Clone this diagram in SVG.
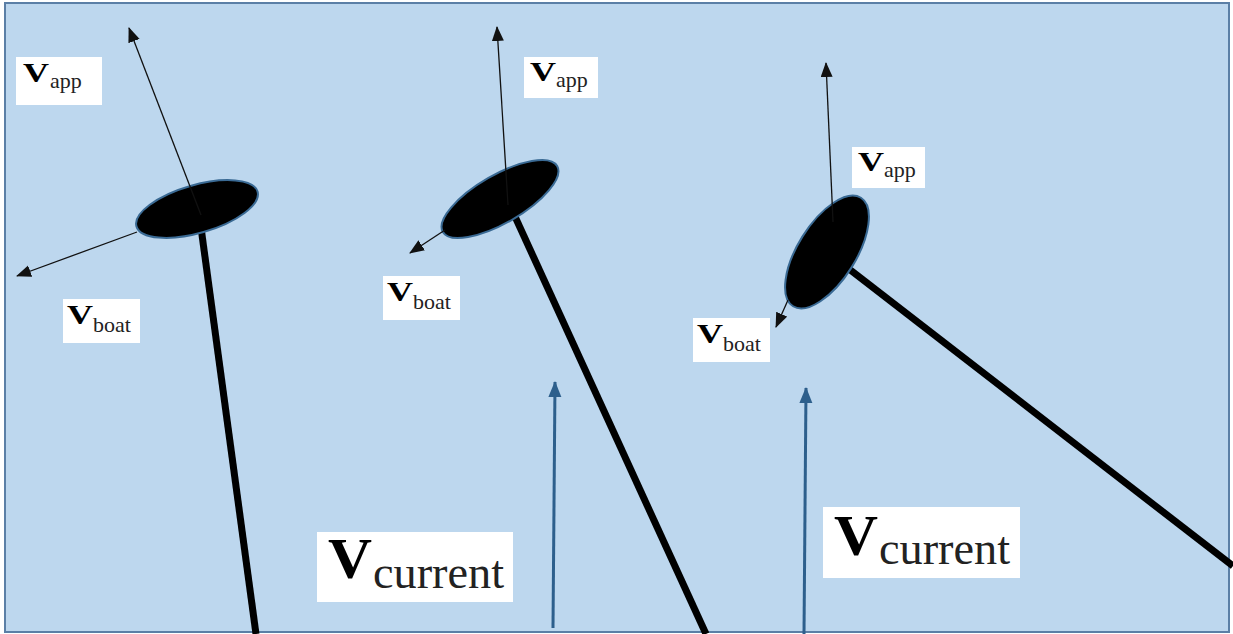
<svg xmlns="http://www.w3.org/2000/svg" width="1233" height="634" viewBox="0 0 1233 634">
<defs>
<style>
.bg{fill:#BDD7EE;stroke:#5B7FA6;stroke-width:2}
.sail{fill:#000;stroke:#3A6A94;stroke-width:2}
.pole{stroke:#000;stroke-width:7;fill:none}
.vec{stroke:#111;stroke-width:1.3;fill:none;marker-end:url(#ah)}
.cur{stroke:#2D5F8C;stroke-width:3;fill:none;marker-end:url(#ahb)}
.box{fill:#fff}
</style>
<marker id="ah" markerUnits="userSpaceOnUse" markerWidth="15" markerHeight="13" refX="14" refY="6" orient="auto"><path d="M0,0 L15,6 L0,12 z" fill="#111"/></marker>
<marker id="ahb" markerUnits="userSpaceOnUse" markerWidth="16" markerHeight="14" refX="15" refY="6.5" orient="auto"><path d="M0,0 L16,6.5 L0,13 z" fill="#2D5F8C"/></marker>
</defs>
<rect class="bg" x="5" y="3" width="1224" height="629"/>

<g id="boat1">
<line class="pole" x1="200" y1="220" x2="256" y2="634"/>
<ellipse class="sail" cx="197" cy="209" rx="63" ry="24" transform="rotate(-16 197 209)"/>
</g>
<g id="boat2">
<line class="pole" x1="512" y1="210" x2="706" y2="634"/>
<ellipse class="sail" cx="500" cy="199" rx="66" ry="24" transform="rotate(-30 500 199)"/>
</g>
<g id="boat3">
<line class="pole" x1="840" y1="262" x2="1233" y2="566"/>
<ellipse class="sail" cx="827" cy="252" rx="64" ry="29" transform="rotate(-58 827 252)"/>
</g>

<g id="connectors">
<line class="vec" x1="201" y1="215" x2="129" y2="28"/>
<line class="vec" x1="137" y1="232" x2="17" y2="276"/>
<line class="vec" x1="508" y1="205" x2="497" y2="27"/>
<line class="vec" x1="445" y1="230" x2="410" y2="253"/>
<line class="vec" x1="833" y1="222" x2="826" y2="63"/>
<line class="vec" x1="788" y1="300" x2="776" y2="327"/>
<line class="cur" x1="553" y1="628" x2="555" y2="382"/>
<line class="cur" x1="804" y1="634" x2="806" y2="388"/>
</g>

<g font-family="'Liberation Serif', 'Times New Roman', serif">
<g id="label-vapp1">
<rect class="box" x="16" y="57" width="86" height="48"/>
<text x="23" y="82" font-size="27" font-weight="bold" textLength="26" lengthAdjust="spacingAndGlyphs">V</text>
<text x="50" y="88" font-size="22" fill="#222">app</text>
</g>
<g id="label-vboat1">
<rect class="box" x="63" y="299" width="77" height="44"/>
<text x="67" y="324" font-size="27" font-weight="bold" textLength="26" lengthAdjust="spacingAndGlyphs">V</text>
<text x="93" y="332" font-size="22" fill="#222">boat</text>
</g>
<g id="label-vapp2">
<rect class="box" x="524" y="57" width="74" height="41"/>
<text x="530" y="81" font-size="27" font-weight="bold" textLength="26" lengthAdjust="spacingAndGlyphs">V</text>
<text x="556" y="87" font-size="22" fill="#222">app</text>
</g>
<g id="label-vboat2">
<rect class="box" x="383" y="276" width="77" height="44"/>
<text x="387" y="301" font-size="27" font-weight="bold" textLength="26" lengthAdjust="spacingAndGlyphs">V</text>
<text x="413" y="309" font-size="22" fill="#222">boat</text>
</g>
<g id="label-vapp3">
<rect class="box" x="852" y="147" width="73" height="41"/>
<text x="858" y="171" font-size="27" font-weight="bold" textLength="26" lengthAdjust="spacingAndGlyphs">V</text>
<text x="884" y="177" font-size="22" fill="#222">app</text>
</g>
<g id="label-vboat3">
<rect class="box" x="693" y="318" width="77" height="44"/>
<text x="697" y="343" font-size="27" font-weight="bold" textLength="26" lengthAdjust="spacingAndGlyphs">V</text>
<text x="723" y="351" font-size="22" fill="#222">boat</text>
</g>
<g id="label-vcurrent1">
<rect class="box" x="317" y="532" width="196" height="70"/>
<text x="328" y="578" font-size="57" font-weight="bold" textLength="44" lengthAdjust="spacingAndGlyphs">V</text>
<text x="373" y="588" font-size="46" fill="#222" textLength="131" lengthAdjust="spacingAndGlyphs">current</text>
</g>
<g id="label-vcurrent2">
<rect class="box" x="823" y="507" width="197" height="71"/>
<text x="834" y="555" font-size="57" font-weight="bold" textLength="44" lengthAdjust="spacingAndGlyphs">V</text>
<text x="879" y="564" font-size="46" fill="#222" textLength="131" lengthAdjust="spacingAndGlyphs">current</text>
</g>
</g>
</svg>
